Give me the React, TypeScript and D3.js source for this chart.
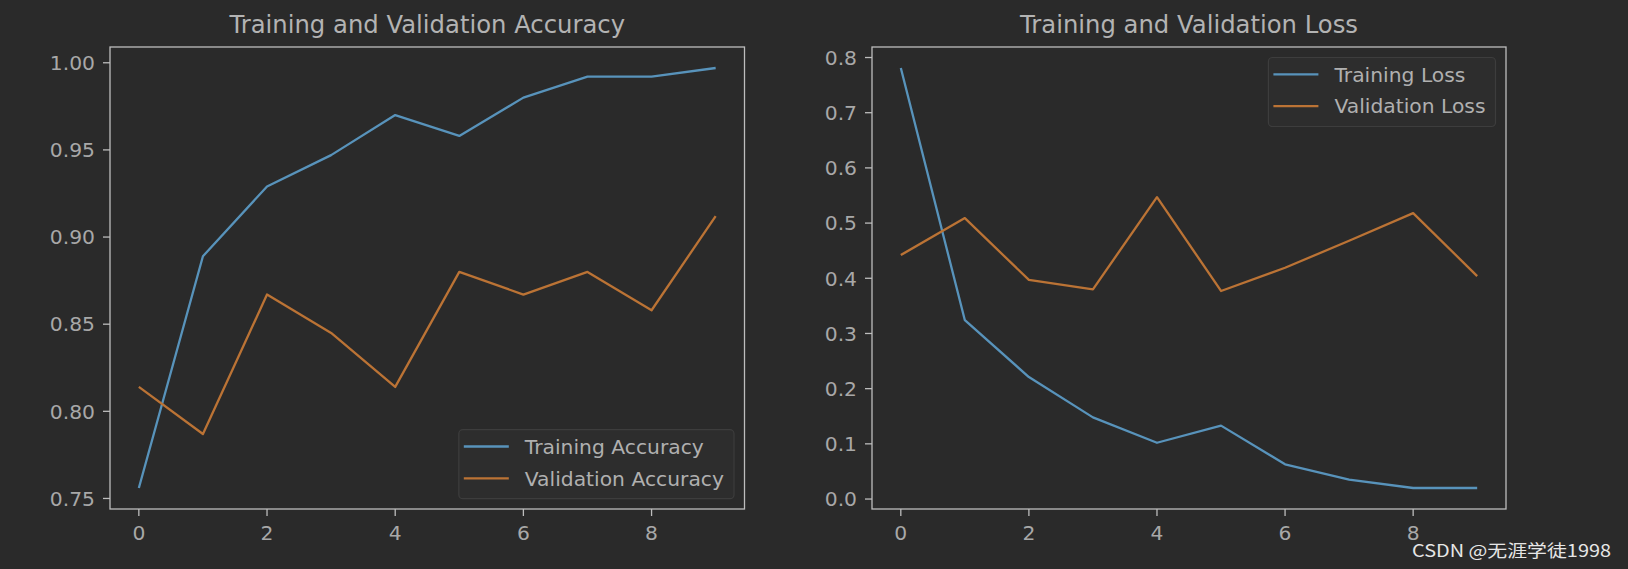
import React, { useRef, useEffect } from 'react';
import * as d3 from 'd3';

// epochs on the x axis
const epochs = [0, 1, 2, 3, 4, 5, 6, 7, 8, 9];
const xTicks = [0, 2, 4, 6, 8];

const trainAcc = [0.756, 0.889, 0.929, 0.947, 0.970, 0.958, 0.980, 0.992, 0.992, 0.997];
const valAcc = [0.814, 0.787, 0.867, 0.845, 0.814, 0.880, 0.867, 0.880, 0.858, 0.912];
const accTicks = [0.75, 0.8, 0.85, 0.9, 0.95, 1.0];

const trainLoss = [0.781, 0.324, 0.221, 0.148, 0.102, 0.133, 0.063, 0.035, 0.020, 0.020];
const valLoss = [0.442, 0.509, 0.397, 0.380, 0.547, 0.377, 0.419, 0.468, 0.518, 0.404];
const lossTicks = [0.0, 0.1, 0.2, 0.3, 0.4, 0.5, 0.6, 0.7, 0.8];

const W = 1628;
const H = 569;
const BG = '#2a2a2a';
const BLUE = '#5893bb';
const ORANGE = '#bb7335';
const FONT = '"DejaVu Sans", sans-serif';
const FS = 20.3;

// matplotlib style 5% padding
const pad = (lo: number, hi: number) => {
  const m = (hi - lo) * 0.05;
  return [lo - m, hi + m];
};

const drawPanel = (g: any, opts: any) => {
  const { left, right, top, bottom, title, series, labels, ticks, fmt, legendLoc } = opts;

  const allY = series.flat();
  const x = d3.scaleLinear().domain(pad(0, epochs.length - 1)).range([left, right]);
  const y = d3.scaleLinear().domain(pad(d3.min(allY), d3.max(allY))).range([bottom, top]);

  const line = d3.line<number>().x((d, i) => x(epochs[i])).y(d => y(d));

  // title
  g.append('text')
    .attr('x', (left + right) / 2)
    .attr('y', top - 14)
    .attr('text-anchor', 'middle')
    .attr('fill', '#b3b3b3')
    .attr('font-size', 24.3)
    .text(title);

  // lines
  const colors = [BLUE, ORANGE];
  series.forEach((s: number[], i: number) => {
    g.append('path')
      .attr('d', line(s))
      .attr('fill', 'none')
      .attr('stroke', colors[i])
      .attr('stroke-width', 2.3)
      .attr('stroke-linejoin', 'round');
  });

  // frame
  g.append('rect')
    .attr('x', left)
    .attr('y', top)
    .attr('width', right - left)
    .attr('height', bottom - top)
    .attr('fill', 'none')
    .attr('stroke', '#bdbdbd')
    .attr('stroke-width', 1.3);

  // y axis
  const ya = g.append('g');
  ticks.forEach((t: number) => {
    ya.append('line')
      .attr('x1', left - 7).attr('x2', left)
      .attr('y1', y(t)).attr('y2', y(t))
      .attr('stroke', '#bdbdbd').attr('stroke-width', 1.3);
    ya.append('text')
      .attr('x', left - 15)
      .attr('y', y(t))
      .attr('dy', '0.36em')
      .attr('text-anchor', 'end')
      .attr('fill', '#a8a8a8')
      .attr('font-size', FS)
      .text(fmt(t));
  });

  // x axis
  const xa = g.append('g');
  xTicks.forEach(t => {
    xa.append('line')
      .attr('x1', x(t)).attr('x2', x(t))
      .attr('y1', bottom).attr('y2', bottom + 7)
      .attr('stroke', '#bdbdbd').attr('stroke-width', 1.3);
    xa.append('text')
      .attr('x', x(t))
      .attr('y', bottom + 31)
      .attr('text-anchor', 'middle')
      .attr('fill', '#a8a8a8')
      .attr('font-size', FS)
      .text(t);
  });

  // legend
  const lg = g.append('g');
  const box = lg.append('rect')
    .attr('fill', '#2d2d2d')
    .attr('stroke', '#3d3d3d')
    .attr('stroke-width', 1.2)
    .attr('rx', 4);
  let maxW = 0;
  const rows = labels.map((lab: string, i: number) => {
    const r = lg.append('g');
    r.append('line')
      .attr('x1', 0).attr('x2', 45)
      .attr('y1', 0).attr('y2', 0)
      .attr('stroke', colors[i])
      .attr('stroke-width', 2.3);
    const tx = r.append('text')
      .attr('x', 61)
      .attr('dy', '0.36em')
      .attr('fill', '#b0b0b0')
      .attr('font-size', FS)
      .text(lab);
    maxW = Math.max(maxW, (tx.node() as SVGTextElement).getComputedTextLength());
    return r;
  });
  const bw = 5 + 61 + maxW + 10;
  const bh = 69;
  const bx = right - 10.5 - bw;
  const by = legendLoc === 'lower right' ? bottom - 10.3 - bh : top + 10.5;
  box.attr('x', bx).attr('y', by).attr('width', bw).attr('height', bh);
  rows.forEach((r: any, i: number) => {
    r.attr('transform', `translate(${bx + 5},${by + 16.8 + i * 31.8})`);
  });
};

const App = () => {
  const ref = useRef<SVGSVGElement>(null);

  useEffect(() => {
    const svg = d3.select(ref.current);
    svg.selectAll('*').remove();
    const g = svg.append('g').attr('font-family', FONT);

    drawPanel(g.append('g'), {
      left: 110, right: 744.5, top: 47, bottom: 509,
      title: 'Training and Validation Accuracy',
      series: [trainAcc, valAcc],
      labels: ['Training Accuracy', 'Validation Accuracy'],
      ticks: accTicks,
      fmt: d3.format('.2f'),
      legendLoc: 'lower right',
    });

    drawPanel(g.append('g'), {
      left: 872, right: 1506, top: 47, bottom: 509,
      title: 'Training and Validation Loss',
      series: [trainLoss, valLoss],
      labels: ['Training Loss', 'Validation Loss'],
      ticks: lossTicks,
      fmt: d3.format('.1f'),
      legendLoc: 'upper right',
    });

    // watermark
    svg.append('text')
      .attr('x', 1412)
      .attr('y', 557)
      .attr('font-family', '"Noto Sans CJK SC", sans-serif')
      .attr('font-size', 17)
      .attr('textLength', 199)
      .attr('lengthAdjust', 'spacingAndGlyphs')
      .attr('fill', '#e6e6e6')
      .text('CSDN @无涯学徒1998');
  }, []);

  return (
    <svg
      ref={ref}
      width={W}
      height={H}
      style={{ position: 'absolute', left: 0, top: 0, display: 'block', background: BG }}
    />
  );
};

export default App;
